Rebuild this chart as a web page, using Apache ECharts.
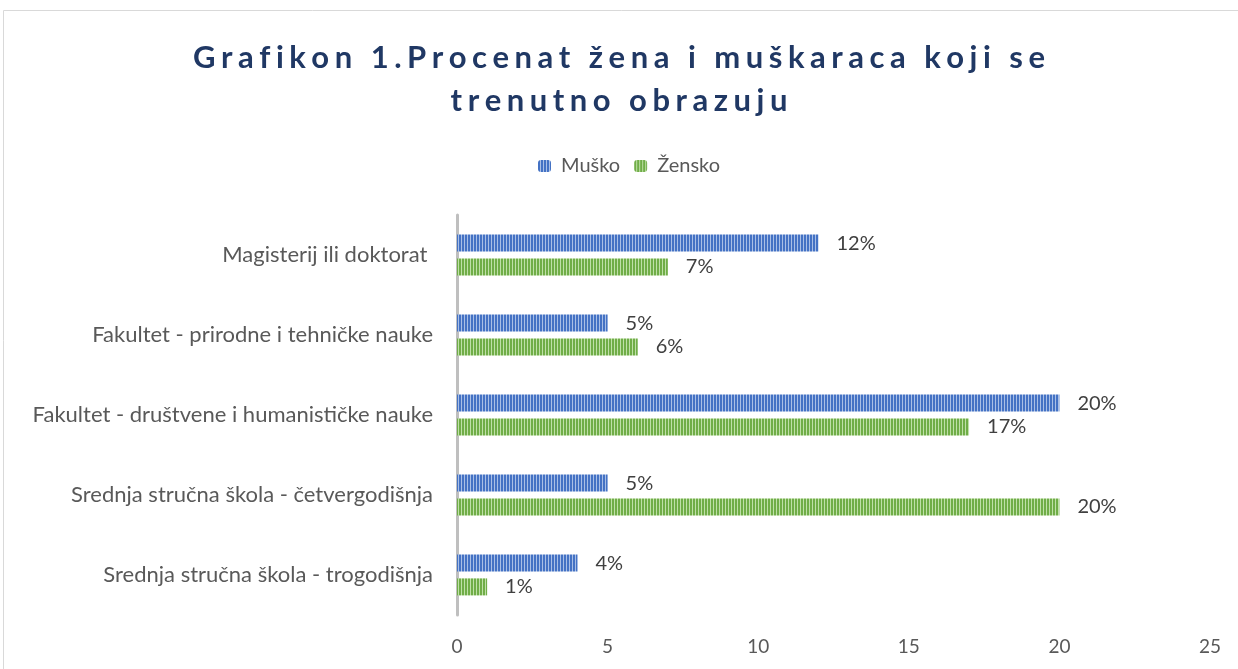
<!DOCTYPE html>
<html>
<head>
<meta charset="utf-8">
<script src="https://cdn.jsdelivr.net/npm/echarts@6/dist/echarts.min.js"></script>
<style>
  html, body { margin: 0; padding: 0; background: #fff; }
  #chart { width: 1238px; height: 669px; }
</style>
</head>
<body>
<div id="chart"></div>
<script>
  const categories = [
    "Magisterij ili doktorat ",
    "Fakultet - prirodne i tehničke nauke",
    "Fakultet - društvene i humanističke nauke",
    "Srednja stručna škola - četvergodišnja",
    "Srednja stručna škola - trogodišnja"
  ];
  const muskoValues = [12, 5, 20, 5, 4];
  const zenskoValues = [7, 6, 17, 20, 1];
  const xTicks = [0, 5, 10, 15, 20, 25];

  const titleLines = ["Grafikon 1.Procenat žena i muškaraca koji se", "trenutno obrazuju"];

  // wide letter spacing like the original title: a small spacer token between letters
  function spaced(text) {
    return text.split("").map((c) => "{t|" + c + "}").join("{s|\u2009}");
  }

  function stripePattern(base, light) {
    const canvas = document.createElement("canvas");
    canvas.width = 3;
    canvas.height = 4;
    const ctx = canvas.getContext("2d");
    ctx.fillStyle = base;
    ctx.fillRect(0, 0, 3, 4);
    ctx.fillStyle = light;
    ctx.fillRect(2, 0, 1, 4);
    return { image: canvas, repeat: "repeat" };
  }

  const font = "Lato, 'Liberation Sans', sans-serif";
  const chart = echarts.init(document.getElementById("chart"));

  const dataLabel = {
    show: true,
    position: "right",
    distance: 18,
    fontSize: 20,
    color: "#404040",
    fontFamily: font,
    formatter: (p) => p.value + "%"
  };

  chart.setOption({
    animation: false,
    textStyle: { fontFamily: font },
    title: {
      text: titleLines.map(spaced).join("\n"),
      left: "center",
      top: 31,
      textStyle: {
        fontFamily: font,
        fontSize: 31,
        fontWeight: "bold",
        color: "#203864",
        lineHeight: 43,
        rich: {
          t: { fontFamily: font, fontSize: 31, fontWeight: "bold", color: "#203864", lineHeight: 43 },
          s: { fontFamily: font, fontSize: 44, fontWeight: "bold", color: "#203864", lineHeight: 43 }
        }
      }
    },
    legend: {
      top: 151,
      left: 533,
      itemWidth: 13,
      itemHeight: 12,
      itemGap: 14,
      textStyle: { fontSize: 20, color: "#595959", fontFamily: font, padding: [0, 0, 0, 5] },
      data: ["Muško", "Žensko"]
    },
    graphic: [{
      type: "rect",
      shape: { x: 3.5, y: 10.5, width: 1300, height: 700 },
      style: { fill: "none", stroke: "#d9d9d9", lineWidth: 1 },
      silent: true,
      z: -1
    }],
    grid: { left: 457, right: 28, top: 215, bottom: 54 },
    xAxis: {
      type: "value",
      min: xTicks[0],
      max: xTicks[xTicks.length - 1],
      interval: 5,
      axisLine: { show: false },
      axisTick: { show: false },
      splitLine: { show: false },
      axisLabel: { fontSize: 19, color: "#595959", margin: 22, fontFamily: font }
    },
    yAxis: {
      type: "category",
      inverse: true,
      data: categories,
      axisLine: { show: true, lineStyle: { color: "#bfbfbf", width: 3 } },
      axisTick: { show: false },
      axisLabel: { fontSize: 22, color: "#595959", margin: 24, fontFamily: font }
    },
    series: [
      {
        name: "Muško",
        type: "bar",
        barWidth: 17,
        barGap: "40%",
        itemStyle: { color: stripePattern("#4472c4", "#a9bfe6") },
        label: dataLabel,
        data: muskoValues
      },
      {
        name: "Žensko",
        type: "bar",
        barWidth: 17,
        itemStyle: { color: stripePattern("#70ad47", "#bfe0a8") },
        label: dataLabel,
        data: zenskoValues
      }
    ]
  });
</script>
</body>
</html>
